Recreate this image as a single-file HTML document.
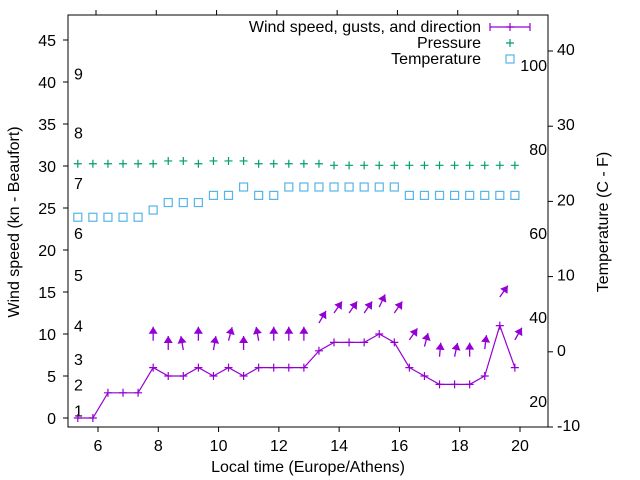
<!DOCTYPE html>
<html><head><meta charset="utf-8"><style>
body{margin:0;background:#fff}
svg{display:block;font-family:"Liberation Sans",sans-serif}
</style></head><body>
<svg id="chart" width="640" height="480" viewBox="0 0 640 480" xmlns="http://www.w3.org/2000/svg">
<rect width="640" height="480" fill="#fff"/>
<g id="g"></g>
</svg>
<script>
const startHour = 5.33;
const stepHour = 0.5;
const windSpeed = [0,0,3,3,3,6,5,5,6,5,6,5,6,6,6,6,8,9,9,9,10,9,6,5,4,4,4,5,11,6];
const gustStart = 5;
const gustSpeed = [9.2,8.1,8.1,9.2,8.1,9.2,8.1,9.2,9.2,9.2,9.2,11.3,12.5,12.5,12.5,13.2,12.5,9.3,8.5,7.3,7.3,7.3,8.2,14.4,9.3];
const gustDir = [0,0,-10,0,10,15,0,-10,0,0,0,30,35,35,35,25,35,35,15,5,12,0,7,35,30];
const pressure = [30.27,30.27,30.27,30.27,30.27,30.27,30.6,30.6,30.27,30.6,30.6,30.6,30.27,30.27,30.27,30.27,30.27,30.08,30.08,30.08,30.08,30.08,30.08,30.08,30.08,30.08,30.08,30.08,30.08,30.08];
const temperature = [23.9,23.9,23.9,23.9,23.9,24.76,25.65,25.65,25.65,26.5,26.5,27.5,26.5,26.5,27.5,27.5,27.5,27.5,27.5,27.5,27.5,27.5,26.5,26.5,26.5,26.5,26.5,26.5,26.5,26.5];
const xTicks = [6,8,10,12,14,16,18,20];
const yTicks = [0,5,10,15,20,25,30,35,40,45];
const tempTicks = [-10,0,10,20,30,40];
const beaufort = [[1,0.9],[2,4],[3,7],[4,11],[5,17],[6,22],[7,28],[8,34],[9,41]];
const fahrenheit = [[20,2],[40,12],[60,22],[80,32],[100,42]];

const L=68,R=548,T=15,B=427;
const X=h=>98+(h-6)*(520-98)/14;
const Y=v=>418-v*8.4;
const YT=t=>427-(t+10)*7.52;
const NS="http://www.w3.org/2000/svg";
const g=document.getElementById('g');
function mk(tag,attrs,parent){const e=document.createElementNS(NS,tag);for(const k in attrs)e.setAttribute(k,attrs[k]);(parent||g).appendChild(e);return e;}
function txt(x,y,s,anchor,size){const e=mk('text',{x:x,y:y,'text-anchor':anchor||'middle','font-size':size||16,fill:'#000'});e.textContent=s;return e;}
const P='#9400d3',GR='#009e73',CY='#56b4e9';

let fr=mk('rect',{x:L,y:T,width:R-L,height:B-T,fill:'none',stroke:'#000','stroke-width':1});


xTicks.forEach(h=>{const x=X(h);
 mk('line',{x1:x,y1:B,x2:x,y2:B+5,stroke:'#000'});
 mk('line',{x1:x-2,y1:T,x2:x-2,y2:T-5,stroke:'#000'});
 let t=txt(x,451,String(h));
 
 });
yTicks.forEach(v=>{const y=Y(v);
 mk('line',{x1:L-5,y1:y,x2:L,y2:y,stroke:'#000'});
 let t=txt(56,y+6,String(v),'end');
 
 });
tempTicks.forEach(v=>{const y=YT(v);
 mk('line',{x1:R,y1:y,x2:R+5,y2:y,stroke:'#000'});
 let t=txt(557,y+4,String(v),'start');
 
 });
beaufort.forEach(([n,v])=>{let t=txt(74,Y(v)+6,String(n),'start');
 
 });
fahrenheit.forEach(([n,v])=>{let t=txt(547,Y(v)+6,String(n),'end');
 
 });

let xt=txt(308,472,'Local time (Europe/Athens)');


let yt=txt(0,0,'Wind speed (kn - Beaufort)');
yt.setAttribute('transform','translate(19,222) rotate(-90)');


let rt=txt(0,0,'Temperature (C - F)');
rt.setAttribute('transform','translate(608,222) rotate(-90)');



function plus(x,y,c,s){mk('path',{d:`M${x-s} ${y}H${x+s}M${x} ${y-s}V${y+s}`,stroke:c,'stroke-width':1.2,fill:'none'});}

const pts=windSpeed.map((v,i)=>[X(startHour+i*stepHour),Y(v)]);
let wl=mk('polyline',{points:pts.map(p=>p.join(',')).join(' '),fill:'none',stroke:P,'stroke-width':1.2});


pts.forEach(p=>plus(p[0],p[1],P,4));

gustSpeed.forEach((v,j)=>{const i=j+gustStart;const x=X(startHour+i*stepHour),y=Y(v);
 const a=gustDir[j]*Math.PI/180,len=14;const dx=Math.sin(a),dy=-Math.cos(a);
 const tx=x+dx*len,ty=y+dy*len;
 const grp=mk('g',{});
 
 
 mk('line',{x1:x,y1:y,x2:tx,y2:ty,stroke:P,'stroke-width':1.3},grp);
 const hl=7,hw=4.5,bx=tx-dx*hl,by=ty-dy*hl,px=-dy,py=dx;
 mk('polygon',{points:`${tx},${ty} ${bx+px*hw},${by+py*hw} ${bx-px*hw},${by-py*hw}`,fill:P},grp);});

pressure.forEach((v,i)=>plus(X(startHour+i*stepHour),Y(v),GR,4));
temperature.forEach((v,i)=>{let r=mk('rect',{x:X(startHour+i*stepHour)-4,y:Y(v)-4,width:8,height:8,fill:'none',stroke:CY,'stroke-width':1.2});
 
 });

const lg=mk('g',{});


[['Wind speed, gusts, and direction',27],['Pressure',43],['Temperature',59]].forEach(([s,y])=>{
 const e=mk('text',{x:481,y:y+5,'text-anchor':'end','font-size':16,fill:'#000'},lg);e.textContent=s;});
mk('path',{d:'M490 27H530M490 23V31M530 23V31',stroke:P,'stroke-width':1.2,fill:'none'},lg);
plus(510,27,P,4);
plus(510,43,GR,4);
mk('rect',{x:506,y:55,width:8,height:8,fill:'none',stroke:CY,'stroke-width':1.2},lg);
</script>
</body></html>
